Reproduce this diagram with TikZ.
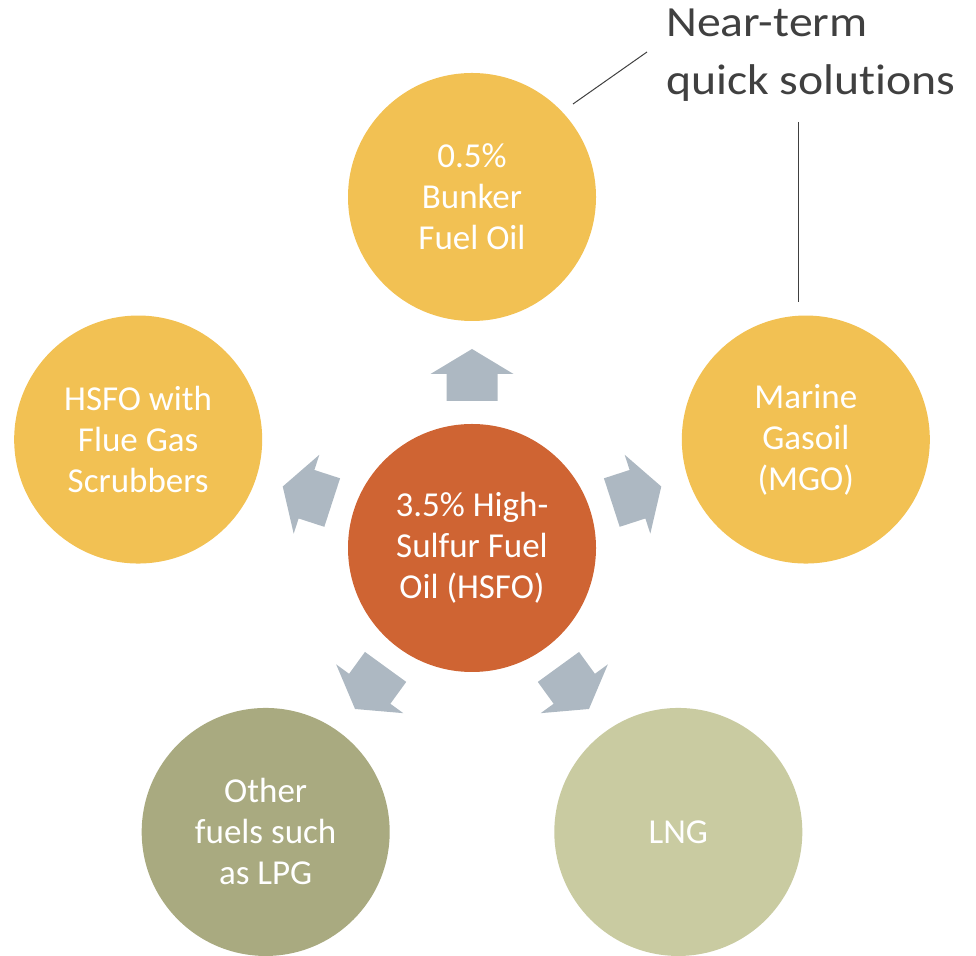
\documentclass[tikz,border=0pt]{standalone}
\usepackage{fontspec}
\setmainfont{Carlito}[Ligatures=NoCommon]
\newfontfamily\labelfont[FakeStretch=1.11,Ligatures=NoCommon]{Carlito}
\usetikzlibrary{calc}
\definecolor{cyellow}{HTML}{F2C153}
\definecolor{corange}{HTML}{CF6433}
\definecolor{colive}{HTML}{A9AA80}
\definecolor{clight}{HTML}{C9CBA1}
\definecolor{carrow}{HTML}{ADB8C2}
\definecolor{ctext}{HTML}{404040}
\begin{document}
\begin{tikzpicture}[x=1pt,y=1pt,
  fuel/.style={circle,minimum size=248pt,inner sep=0pt,align=center,text=white,
    font=\fontsize{35}{41}\selectfont},
  blockarrow/.style={fill=carrow,draw=none}]
\useasboundingbox (0,0) rectangle (976,955);
\coordinate (c) at (472,407);
% circles
\node[fuel,fill=cyellow] (top) at ($(c)+(90:351)$) {0.5\%\\Bunker\\Fuel Oil};
\node[fuel,fill=cyellow] (mgo) at ($(c)+(18:351)$) {Marine\\Gasoil\\(MGO)};
\node[fuel,fill=clight] (lng) at ($(c)+(-54:351)$) {LNG};
\node[fuel,fill=colive] (lpg) at ($(c)+(-126:351)$) {Other\\fuels such\\as LPG};
\node[fuel,fill=cyellow] (scr) at ($(c)+(162:351)$) {HSFO with\\Flue Gas\\Scrubbers};
\node[fuel,fill=corange] (hsfo) at (c) {3.5\% High-\\Sulfur Fuel\\Oil (HSFO)};
% block arrows
\foreach \a in {90,18,-54,-126,162}{
  \begin{scope}[shift={(c)},rotate=\a-90]
    \fill[blockarrow] (-25.5,147) -- (25.5,147) -- (25.5,174) -- (41.5,174)
      -- (0,199) -- (-41.5,174) -- (-25.5,174) -- cycle;
  \end{scope}
}
% label
\node[anchor=base west,inner sep=0pt,align=left,text=ctext,
  font=\labelfont\fontsize{43}{58}\selectfont] (lbl) at (666,860) {Near-term\\quick solutions};
\coordinate (l1a) at (573,851);
\coordinate (l1b) at (647,903);
\coordinate (l2a) at (798,833);
\coordinate (l2b) at (798,653);
\draw[ctext,line width=1pt] (l1a) -- (l1b);
\draw[ctext,line width=1pt] (l2a) -- (l2b);
\end{tikzpicture}
\end{document}
